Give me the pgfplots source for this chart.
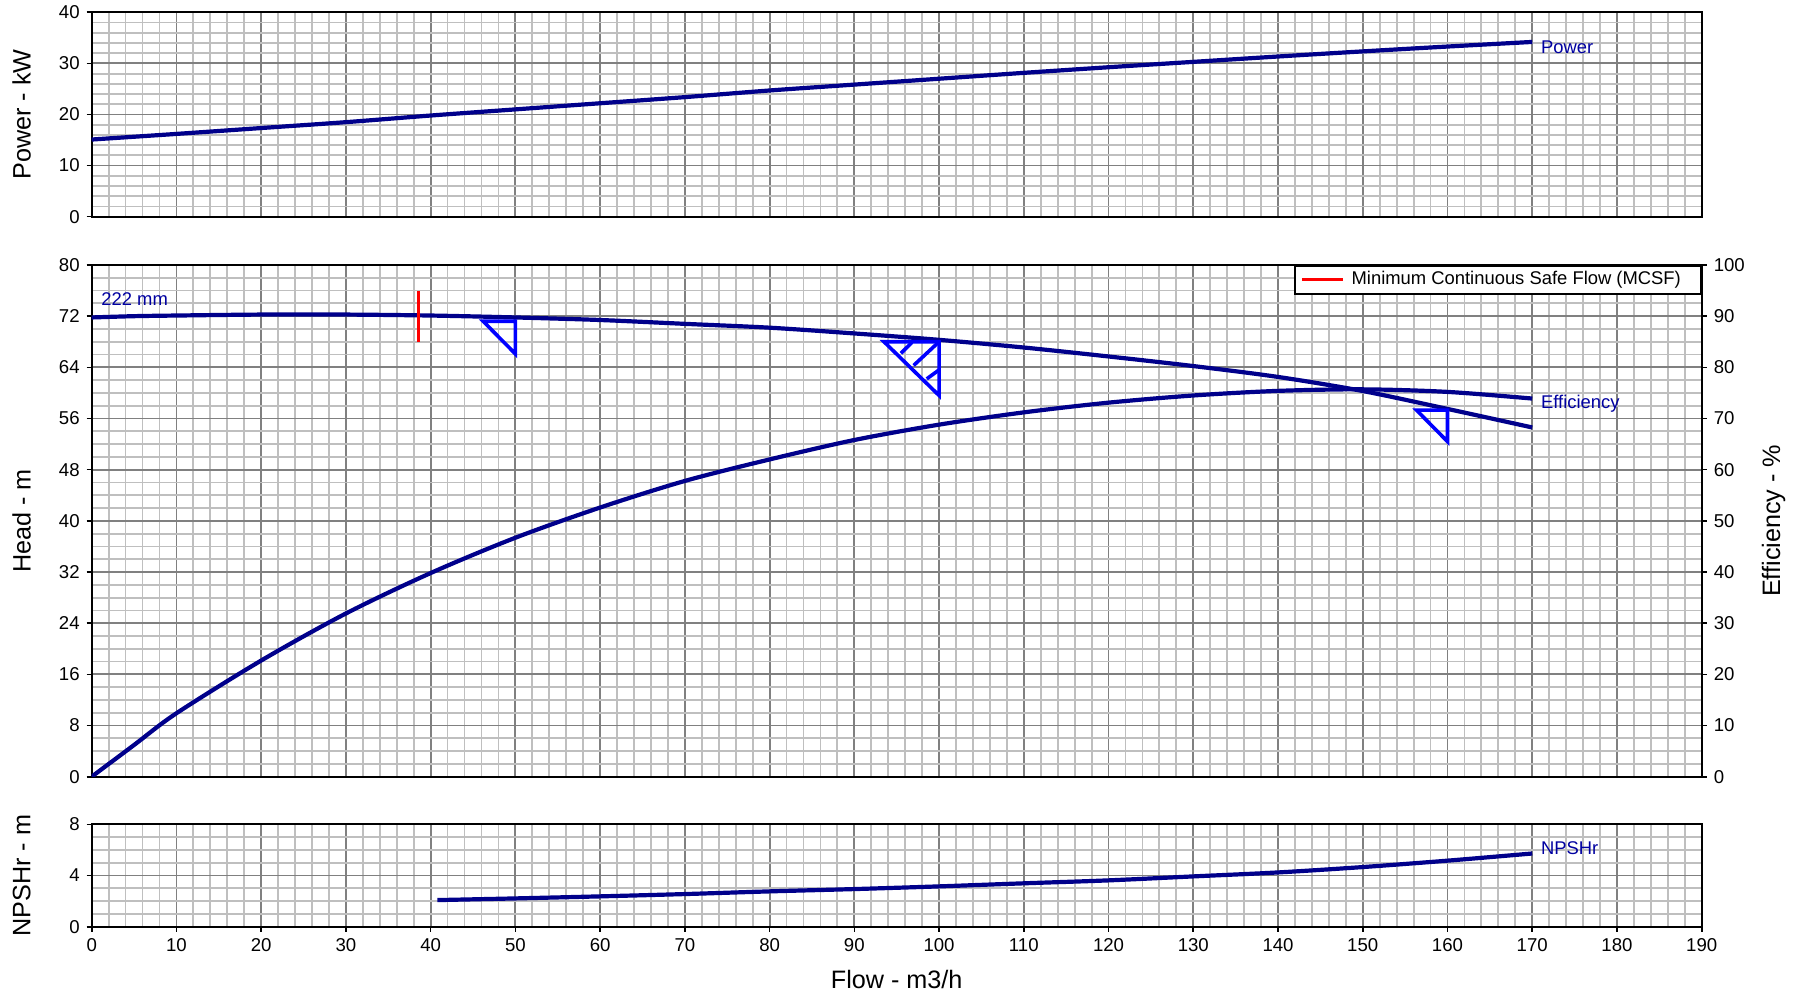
\documentclass[border=0pt]{standalone}
\usepackage{fontspec}
\setmainfont{Liberation Sans}
\usepackage{pgfplots}
\pgfplotsset{compat=1.18}

\definecolor{pcurve}{RGB}{0,0,139}
\definecolor{pcurvetext}{RGB}{0,0,160}
\definecolor{pmarker}{RGB}{0,0,255}
\definecolor{pmcsf}{RGB}{255,0,0}

\tikzset{
  curvelab/.style={anchor=west, inner sep=0pt, text=pcurvetext, font=\fontsize{9.2}{11}\selectfont},
}
\pgfplotsset{
  pumpgrid/.style={
    scale only axis, width=805pt,
    xmin=0, xmax=190, xtick distance=10, minor x tick num=4,
    grid=both,
    major grid style={draw=black!50, line width=0.9pt},
    minor grid style={draw=black!25, line width=0.9pt},
    axis line style={line width=1pt},
    tick align=outside, major tick length=2.5pt, minor tick length=0pt,
    every tick/.style={black, line width=0.8pt},
    ytick pos=left,
    tick label style={font=\fontsize{9.3}{11}\selectfont},
    /pgf/number format/assume math mode=true,
    label style={font=\fontsize{12.6}{15}\selectfont},
    ylabel style={at={(axis description cs:-0.0435,0.5)}, anchor=center, rotate=0},
  },
  pumpcurve/.style={pcurve, line width=2.1pt, smooth, no markers},
  bep/.style={pmarker, line width=1.8pt, no markers, line join=miter},
}

\begin{document}
\begin{tikzpicture}

% power
\begin{axis}[pumpgrid, at={(45.85pt,387.65pt)}, anchor=south west, height=102.2pt,
  ymin=0, ymax=40, ytick distance=10, minor y tick num=4,
  xticklabels={}, xtick style={draw=none},
  ylabel={Power - kW}]
\addplot[pumpcurve] coordinates {
 (0,15.1)(10,16.2)(20,17.35)(30,18.5)(40,19.8)(50,21.0)(60,22.2)(70,23.4)(80,24.7)
 (90,25.85)(100,27.0)(110,28.15)(120,29.25)(130,30.3)(140,31.35)(150,32.35)(160,33.3)(170,34.2)};
\node[curvelab] at (axis cs:171,33.2) {Power};
\end{axis}

% head
\begin{axis}[pumpgrid, at={(45.85pt,107.65pt)}, anchor=south west, height=255.85pt,
  ymin=0, ymax=80, ytick distance=8, minor y tick num=3,
  xticklabels={}, xtick style={draw=none},
  ylabel={Head - m},
  legend style={at={(1,1)}, anchor=north east, draw=black, line width=0.8pt,
    inner sep=0pt, nodes={inner xsep=0pt, inner ysep=2.9pt},
    font=\fontsize{9.2}{11}\selectfont},
  legend image code/.code={\path (0pt,0pt); \draw[#1] (2.5pt,0pt) -- (23pt,0pt);}]
\addplot[pumpcurve, forget plot] coordinates {
 (0,71.8)(5,72.0)(10,72.1)(20,72.25)(30,72.25)(40,72.1)(50,71.8)(60,71.4)(70,70.8)
 (80,70.2)(90,69.3)(100,68.3)(110,67.1)(120,65.7)(130,64.2)(140,62.5)(150,60.3)(160,57.5)(170,54.6)};
\addplot[bep, forget plot] coordinates {(46.2,71.2)(50,71.2)(50,66.1)} -- cycle;
\addplot[bep, forget plot] coordinates {(93.5,68.0)(100,68.0)(100,59.6)} -- cycle;
\addplot[bep, forget plot] coordinates {(95.5,66.2)(96.8,67.9)};
\addplot[bep, forget plot] coordinates {(97.0,64.3)(100,68.0)};
\addplot[bep, forget plot] coordinates {(98.55,62.2)(100,63.6)};
\addplot[bep, forget plot] coordinates {(156.35,57.3)(160,57.3)(160,52.4)} -- cycle;
\addplot[pmcsf, line width=1.7pt, no markers] coordinates {(38.6,68)(38.6,76)};
\addlegendentry{\kern3.5pt Minimum Continuous Safe Flow (MCSF)\kern10pt}
\node[curvelab] at (axis cs:1.1,74.6) {222 mm};
\end{axis}

% efficiency, right axis
\begin{axis}[at={(45.85pt,107.65pt)}, anchor=south west, scale only axis,
  width=805pt, height=255.85pt,
  xmin=0, xmax=190, ymin=0, ymax=100, ytick distance=10,
  axis x line=none, axis y line*=right,
  axis line style={line width=1pt},
  tick align=outside, major tick length=2.5pt, minor tick length=0pt,
  every tick/.style={black, line width=0.8pt},
  tick label style={font=\fontsize{9.3}{11}\selectfont},
  /pgf/number format/assume math mode=true,
  label style={font=\fontsize{12.6}{15}\selectfont},
  ylabel={Efficiency - \%},
  ylabel style={at={(axis description cs:1.0447,0.5)}, anchor=center, rotate=0}]
\addplot[pumpcurve] coordinates {
 (0,0)(5,6.2)(10,12.4)(20,22.7)(30,31.9)(40,39.8)(50,46.7)(60,52.6)(70,57.8)(80,62.0)
 (90,65.8)(100,68.8)(110,71.2)(120,73.1)(130,74.5)(140,75.4)(150,75.7)(160,75.2)(170,73.9)};
\node[curvelab] at (axis cs:171,72.8) {Efficiency};
\end{axis}

% npshr
\begin{axis}[pumpgrid, at={(45.85pt,32.65pt)}, anchor=south west, height=51.2pt,
  ymin=0, ymax=8, ytick distance=4, minor y tick num=3,
  xtick pos=left,
  xlabel={Flow - m3/h}, ylabel={NPSHr - m},
  xlabel style={at={(axis description cs:0.5,-0.515)}, anchor=center}]
\addplot[pumpcurve] coordinates {
 (40.8,2.08)(50,2.21)(60,2.37)(70,2.55)(80,2.76)(90,2.94)(100,3.15)(110,3.39)(120,3.62)
 (130,3.93)(140,4.24)(150,4.66)(160,5.16)(170,5.72)};
\node[curvelab] at (axis cs:171,6.15) {NPSHr};
\end{axis}

\pgfresetboundingbox
\path[use as bounding box] (0,0) rectangle (899.5pt,496pt);
\end{tikzpicture}
\end{document}
